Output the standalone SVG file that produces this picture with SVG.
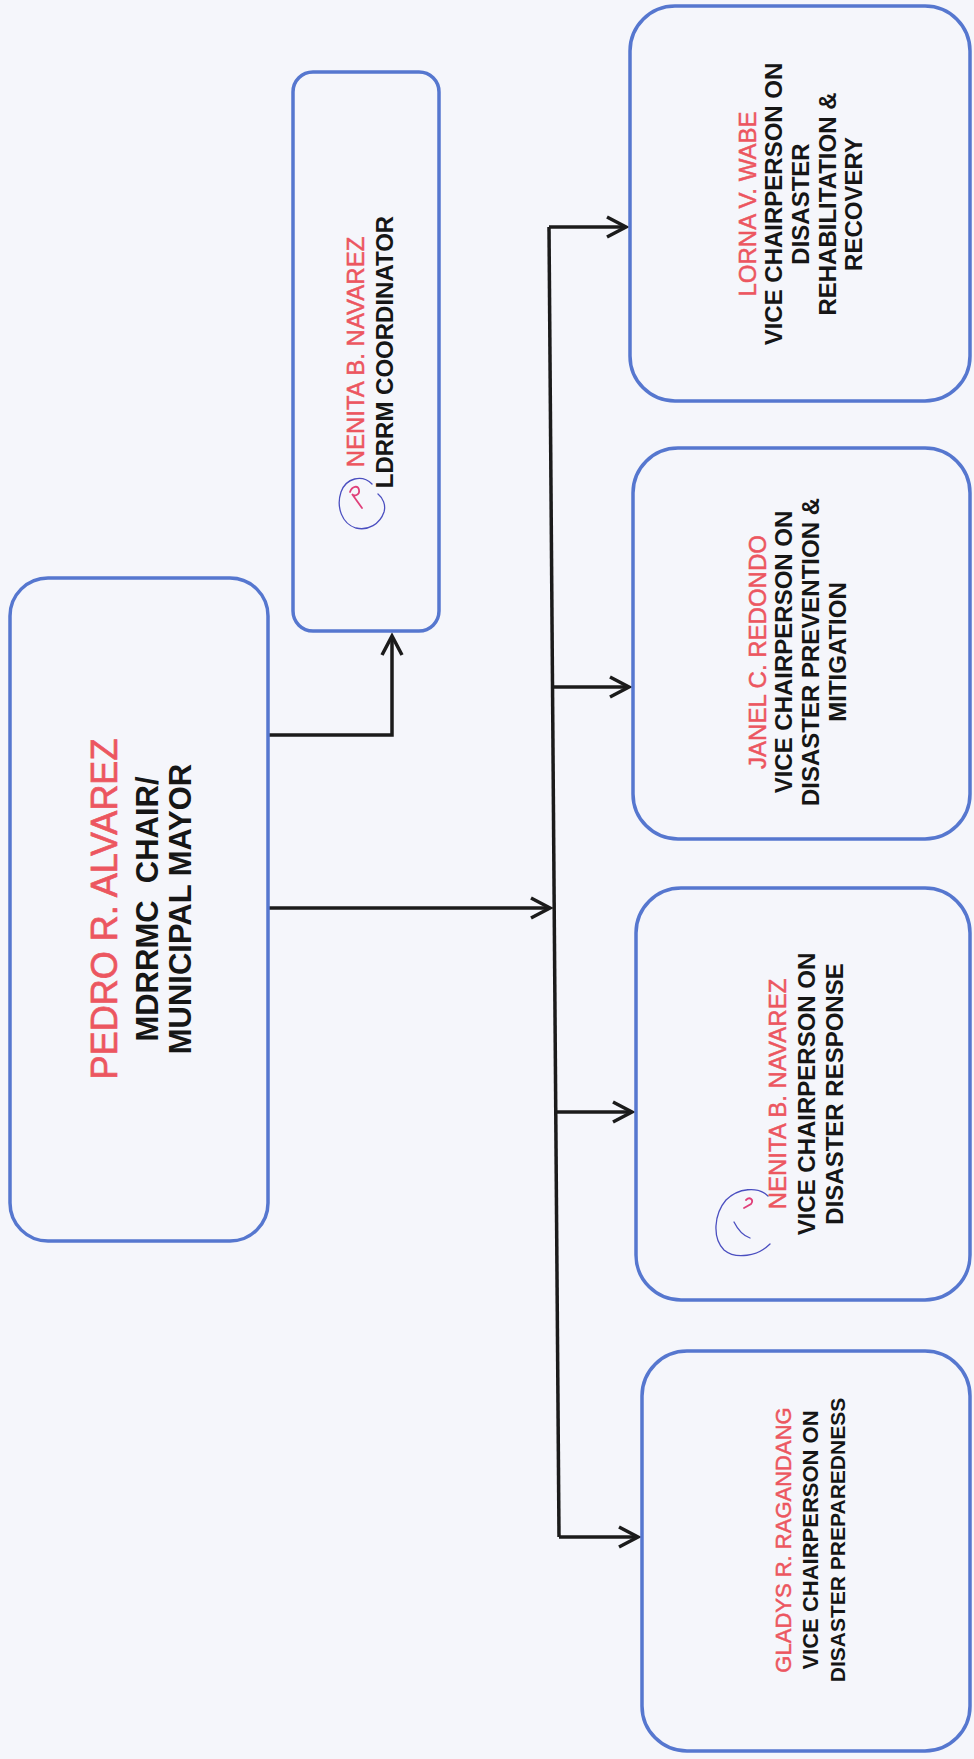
<svg xmlns="http://www.w3.org/2000/svg" width="974" height="1759" viewBox="0 0 974 1759">
<defs>
<style>
.box{fill:none;stroke:#5677cf;stroke-width:3.5}
.t{font-family:"Liberation Sans",Arial,Helvetica,sans-serif;text-anchor:middle}
.b{font-weight:bold;fill:#161616;font-size:24px}
.r{fill:#ec5660;stroke:#ec5660;stroke-width:0.5;font-size:24px}
.conn{fill:none;stroke:#1b1b1b;stroke-width:3.5}
.sig{fill:none;stroke:#4b4fc0;stroke-width:1.3;stroke-linecap:round}
.sigp{fill:none;stroke:#e0407a;stroke-width:1.8;stroke-linecap:round}
</style>
<marker id="ah" viewBox="-24 -13 30 26" refX="0" refY="0" markerWidth="30" markerHeight="26" markerUnits="userSpaceOnUse" orient="auto" overflow="visible">
<path d="M-19,-10 L0,0 L-19,10" fill="none" stroke="#1b1b1b" stroke-width="3.5"/>
</marker>
</defs>
<rect x="0" y="0" width="974" height="1759" fill="#f5f6fb"/>

<g id="connectors">
<path class="conn" d="M268,735 H392 V636" marker-end="url(#ah)"/>
<path class="conn" d="M268,908 H550" marker-end="url(#ah)"/>
<path class="conn" d="M549,227 L559,1537"/>
<path class="conn" d="M549,227 H626" marker-end="url(#ah)"/>
<path class="conn" d="M552.5,687 H629" marker-end="url(#ah)"/>
<path class="conn" d="M556,1112 H632" marker-end="url(#ah)"/>
<path class="conn" d="M559,1537 H638" marker-end="url(#ah)"/>
</g>

<g id="chair">
<rect class="box" x="10" y="578" width="258" height="663" rx="38"/>
<text class="t r" style="font-size:36px;stroke-width:0.7" transform="translate(117,909) rotate(-90)">PEDRO R. ALVAREZ</text>
<text class="t b" style="font-size:31px" transform="translate(158,909) rotate(-90)">MDRRMC&#160; CHAIR/</text>
<text class="t b" style="font-size:31px" transform="translate(191,909) rotate(-90)">MUNICIPAL MAYOR</text>
</g>

<g id="coordinator">
<rect class="box" x="293" y="72" width="146" height="559" rx="20"/>
<path class="sig" d="M372,484 C362,474 346,478 341,492 C336,507 342,524 356,528 C368,531 380,524 384,512 C386,505 383,498 378,494"/>
<path class="sigp" d="M350,492 C352,486 358,485 359,490 C360,495 354,497 352,494 L362,508"/>
<text class="t r" transform="translate(364,352) rotate(-90)">NENITA B. NAVAREZ</text>
<text class="t b" transform="translate(393,352) rotate(-90)">LDRRM COORDINATOR</text>
</g>

<g id="lorna">
<rect class="box" x="630" y="6" width="340" height="395" rx="45"/>
<text class="t r" transform="translate(756,204) rotate(-90)">LORNA V. WABE</text>
<text class="t b" transform="translate(782,204) rotate(-90)">VICE CHAIRPERSON ON</text>
<text class="t b" transform="translate(809,204) rotate(-90)">DISASTER</text>
<text class="t b" transform="translate(836,204) rotate(-90)">REHABILITATION &amp;</text>
<text class="t b" transform="translate(862,204) rotate(-90)">RECOVERY</text>
</g>

<g id="janel">
<rect class="box" x="633" y="448" width="337" height="391" rx="45"/>
<text class="t r" transform="translate(766,652) rotate(-90)">JANEL C. REDONDO</text>
<text class="t b" transform="translate(792,652) rotate(-90)">VICE CHAIRPERSON ON</text>
<text class="t b" transform="translate(819,652) rotate(-90)">DISASTER PREVENTION &amp;</text>
<text class="t b" transform="translate(846,652) rotate(-90)">MITIGATION</text>
</g>

<g id="nenita-response">
<rect class="box" x="636" y="888" width="334" height="412" rx="45"/>
<path class="sig" d="M768,1196 C758,1186 738,1188 726,1200 C714,1214 712,1238 724,1250 C736,1260 758,1256 770,1244"/>
<path class="sig" d="M734,1222 C738,1230 744,1236 750,1238"/>
<path class="sigp" d="M746,1200 C750,1196 754,1200 751,1204 L744,1208"/>
<text class="t r" transform="translate(786,1094) rotate(-90)">NENITA B. NAVAREZ</text>
<text class="t b" transform="translate(815,1094) rotate(-90)">VICE CHAIRPERSON ON</text>
<text class="t b" transform="translate(843,1094) rotate(-90)">DISASTER RESPONSE</text>
</g>

<g id="gladys">
<rect class="box" x="642" y="1351" width="328" height="400" rx="45"/>
<text class="t r" style="font-size:22px" transform="translate(791,1540) rotate(-90)">GLADYS R. RAGANDANG</text>
<text class="t b" style="font-size:22px" transform="translate(818,1540) rotate(-90)">VICE CHAIRPERSON ON</text>
<text class="t b" style="font-size:21px" transform="translate(845,1540) rotate(-90)">DISASTER PREPAREDNESS</text>
</g>
</svg>
